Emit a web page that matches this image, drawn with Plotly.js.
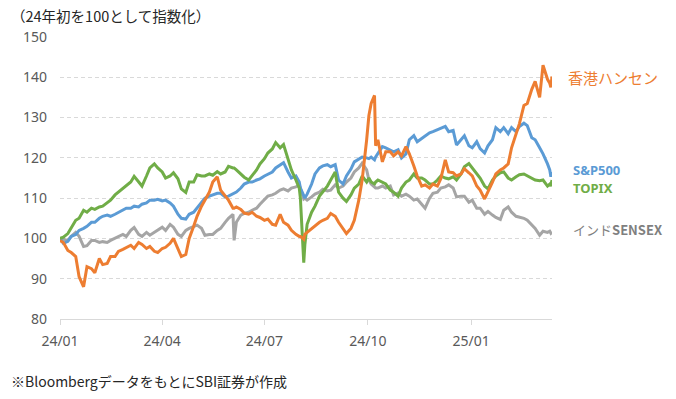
<!DOCTYPE html>
<html>
<head>
<meta charset="utf-8">
<script src="https://cdn.plot.ly/plotly-3.0.1.min.js"></script>
<style>
  html, body { margin: 0; padding: 0; background: #ffffff; }
  #chart { width: 676px; height: 399px; }
</style>
</head>
<body>
<div id="chart"></div>
<script>
// ---- data (index: start of 2024 = 100) ----
const dates = [
  '2024-01-01','2024-01-04','2024-01-08','2024-01-11','2024-01-15','2024-01-18','2024-01-22','2024-01-25','2024-01-29','2024-02-01',
  '2024-02-05','2024-02-08','2024-02-12','2024-02-15','2024-02-19','2024-02-22','2024-02-26','2024-02-29','2024-03-04','2024-03-07',
  '2024-03-11','2024-03-14','2024-03-18','2024-03-21','2024-03-25','2024-03-28','2024-04-01','2024-04-04','2024-04-08','2024-04-11',
  '2024-04-15','2024-04-18','2024-04-22','2024-04-25','2024-04-29','2024-05-02','2024-05-06','2024-05-09','2024-05-13','2024-05-16',
  '2024-05-20','2024-05-23','2024-05-27','2024-05-30','2024-06-03','2024-06-04','2024-06-06','2024-06-10','2024-06-13','2024-06-17',
  '2024-06-20','2024-06-24','2024-06-27','2024-07-01','2024-07-04','2024-07-08','2024-07-11','2024-07-15','2024-07-18','2024-07-22',
  '2024-07-25','2024-07-29','2024-08-01','2024-08-02','2024-08-05','2024-08-06','2024-08-08','2024-08-12','2024-08-15','2024-08-19',
  '2024-08-22','2024-08-26','2024-08-29','2024-09-02','2024-09-05','2024-09-09','2024-09-12','2024-09-16','2024-09-19','2024-09-23',
  '2024-09-26','2024-09-30','2024-10-02','2024-10-04','2024-10-07','2024-10-08','2024-10-10','2024-10-14','2024-10-17','2024-10-21',
  '2024-10-24','2024-10-28','2024-10-31','2024-11-04','2024-11-07','2024-11-11','2024-11-14','2024-11-18','2024-11-21','2024-11-25',
  '2024-11-28','2024-12-02','2024-12-05','2024-12-09','2024-12-12','2024-12-16','2024-12-19','2024-12-23','2024-12-26','2024-12-30',
  '2025-01-02','2025-01-06','2025-01-09','2025-01-13','2025-01-16','2025-01-20','2025-01-23','2025-01-27','2025-01-30','2025-02-03',
  '2025-02-06','2025-02-10','2025-02-13','2025-02-17','2025-02-20','2025-02-24','2025-02-27','2025-03-03','2025-03-06','2025-03-10',
  '2025-03-12','2025-03-13','2025-03-14'
];

const hangSeng = [
  99.5,99,97,96.5,95.5,90.5,88,93,92.5,91.5,
  95,93.5,93.8,95.5,95.5,96.8,97.3,97.8,98.3,97.5,
  99,98.5,97.5,98,96.8,96.5,97.5,97.8,98.8,100,
  97.5,95.5,96,100,103,105.5,108,109.5,111.5,114,
  115.3,112,110.5,109.5,107.5,107.5,107.8,107.2,106.3,106,
  106.5,105.5,105.2,104.5,104.8,103.5,103.3,106,104,103.3,
  102,101,100.5,100.5,99.8,101,101.5,102.5,103,104,
  104.5,105,106.2,105.5,104,102.5,101.2,102.5,104.5,109.5,
  114.5,124.5,130.5,133.5,135.5,123,124.5,119,121.5,121.5,
  120.5,121.5,120.5,122.8,121,118,115.5,113,113.3,112.5,
  113.5,113,114.8,119.5,116.5,116.3,115.5,116,117.3,116.3,
  115.5,113,112,109.8,111.5,114,116,117,117.5,118.5,
  122.5,126,128.5,133,133.5,137,139,135,143,139.5,
  138.5,137.5,140.2
];

const sp500 = [
  100,98.8,99.3,100.5,101,102,102.5,103,104,104,
  105,105.5,105.8,105.5,106,106.5,107,107.5,107.5,108,
  107.8,108.5,108.8,109.5,109.5,109.7,109.3,109.5,108.8,108,
  106,105,104.8,106,106.5,107.5,109,110,110.5,110.8,
  111.2,111.2,110.3,110.5,111,111.2,111.5,112.5,113.5,114,
  114,114.5,114.8,115.5,116,116.5,117.5,118.2,118.8,116.5,
  115,115.5,114,112.5,110.5,110,111,113.5,116,117.5,
  118,118.3,117.8,118.3,114.5,113.5,115.5,117.2,119,119.8,
  120.2,120,119.8,120.2,119.5,120.2,121,122.8,122.5,122,
  121.5,122,120,121,124.5,125.5,124,124.8,125.5,126.2,
  126.5,127,127.5,127.8,126.5,126.8,123.2,124.5,125.5,123,
  122.5,124,122.3,121.2,123,124.5,127.5,126.5,127.5,126,
  127.5,126.5,127.8,128.6,128,125,124.5,122.5,121,118.5,
  117,115.3,116.5
];

const topix = [
  100,100.3,101.2,102.5,104.5,105,107,106.5,107.5,107.2,
  107.8,108,108.8,109.5,110.8,111.5,112.5,113.2,114,115.4,
  114,113,115.5,117.5,118.5,117.5,116.5,115,115.5,116.3,
  114.8,112.3,111.4,114,114,115.8,115.5,115.5,116,115.7,
  116.6,116,116.5,117.9,117.5,117.5,117,116,115.2,114.5,
  115.5,117,118.5,119.8,121.2,122.2,123.8,122.5,123.3,120,
  117,114.5,112.5,110,94,98.5,103.5,106.5,108,110.5,
  111.5,113,114.5,116.5,111.5,110,109.2,110.8,112.5,113.5,
  115.5,114,115,114,113.5,114,114.5,114,113.5,112,
  111.5,110.5,112.5,114,114.5,116,115,115,114.5,113.5,
  113.5,114.5,115.5,115,114.8,115.3,114.5,116,117.8,118.6,
  117.5,116,115,113,112.3,114.5,115.5,116.3,116.5,115,
  114.5,115.3,115.8,116,115.5,115,114.5,114.3,114.5,113,
  113.5,113,114.5
];

const sensex = [
  100,99.8,99.5,100.5,101.5,100.5,98,98.2,99.5,99.5,
  99,99.2,99,99.5,100,100.3,101,100.5,102,102.7,
  101,100.5,101.5,100.8,101.5,102,102.8,102,103.5,102.8,
  101,100.5,102,102.5,103,103.3,102.5,100.8,101,101,
  102,102.5,104,105,106,99.5,104,105.8,106.2,106.5,
  107,107.5,108.5,109.8,110.5,110.8,111.2,112,112.3,111.8,
  112.5,112.8,113.2,112.5,109.8,110,109.5,110.3,111,111.5,
  112.2,111.8,112,113.3,112.5,113,114,115,116.5,117.5,
  118.7,117,114.5,113.5,112.8,112.5,112.5,113,112.5,113,
  110.8,111.3,110.5,111,110.5,109.5,109.8,108.5,107.5,110,
  111.2,111.5,112.5,112.8,113.3,112.5,110.3,110.5,110.5,109,
  109.5,107.5,107.5,106,106.7,105.8,105.2,104.7,107,107.8,
  106.5,105.5,105.3,105,104.5,103.2,102.5,100.8,101.8,101.5,
  101.8,101.3,101.6
];

const seriesNames = ['香港ハンセン', 'S&P500', 'TOPIX', 'インドSENSEX'];
const tickVals = ['2024-01-01','2024-04-01','2024-07-01','2024-10-01','2025-01-01'];
const tickText = ['24/01','24/04','24/07','24/10','25/01'];

// ---- styles ----
const C_ORANGE = '#ED7D31', C_BLUE = '#5B9BD5', C_GREEN = '#70AD47', C_GRAY = '#A5A5A5';
const FONT = 'Noto Sans, Noto Sans CJK JP, sans-serif';
const JFONT = 'Noto Sans CJK JP, Noto Sans, sans-serif';

function line(y, name, color) {
  return { x: dates, y: y, name: name, type: 'scatter', mode: 'lines',
           line: { color: color, width: 3 }, hoverinfo: 'skip' };
}

const traces = [
  line(sensex, seriesNames[3], C_GRAY),
  line(sp500, seriesNames[1], C_BLUE),
  line(topix, seriesNames[2], C_GREEN),
  line(hangSeng, seriesNames[0], C_ORANGE)
];

const layout = {
  width: 676, height: 399,
  margin: { l: 60, r: 124, t: 37, b: 80 },
  paper_bgcolor: '#ffffff', plot_bgcolor: '#ffffff',
  showlegend: false,
  font: { family: FONT, color: '#595959', size: 14 },
  xaxis: {
    type: 'date', range: ['2024-01-01', '2025-03-14'],
    tickmode: 'array', tickvals: tickVals, ticktext: tickText,
    showgrid: false, zeroline: false,
    showline: true, linecolor: '#d9d9d9', linewidth: 1,
    ticks: 'outside', ticklen: 5, tickcolor: '#d9d9d9', tickwidth: 1,
    tickfont: { family: FONT, size: 14, color: '#595959' },
    ticklabelstandoff: 4
  },
  yaxis: {
    range: [80, 150], dtick: 10, tick0: 80,
    showgrid: true, gridcolor: '#d9d9d9', gridwidth: 1, griddash: '4px,3px',
    zeroline: false, showline: false, ticks: '',
    tickfont: { family: FONT, size: 14, color: '#595959' },
    ticklabelstandoff: 12
  },
  annotations: [
    { text: '（24年初を100として指数化）', xref: 'paper', yref: 'paper',
      x: -0.104, y: 1.078, xanchor: 'left', yanchor: 'middle', showarrow: false,
      font: { family: JFONT, size: 14.5, color: '#262626' } },
    { text: '※Bloombergデータをもとに SBI証券が作成'.replace(' ', ''), xref: 'paper', yref: 'paper',
      x: -0.104, y: -0.22, xanchor: 'left', yanchor: 'middle', showarrow: false,
      font: { family: JFONT, size: 14, color: '#262626' } },
    { text: seriesNames[0], xref: 'paper', yref: 'y', x: 1.0285, y: 140,
      xanchor: 'left', yanchor: 'middle', showarrow: false,
      font: { family: JFONT, size: 15, color: C_ORANGE } },
    { text: '<b>S&amp;P500</b>', xref: 'paper', yref: 'y', x: 1.0386, y: 116.9,
      xanchor: 'left', yanchor: 'middle', showarrow: false,
      font: { family: FONT, size: 13, color: C_BLUE } },
    { text: '<b>TOPIX</b>', xref: 'paper', yref: 'y', x: 1.0386, y: 112.4,
      xanchor: 'left', yanchor: 'middle', showarrow: false,
      font: { family: FONT, size: 13, color: C_GREEN } },
    { text: 'インド<b>SENSEX</b>', xref: 'paper', yref: 'y', x: 1.0386, y: 102.1,
      xanchor: 'left', yanchor: 'middle', showarrow: false,
      font: { family: JFONT, size: 13, color: '#7F7F7F' } }
  ]
};

Plotly.newPlot('chart', traces, layout, { displayModeBar: false, staticPlot: true });
</script>
</body>
</html>
